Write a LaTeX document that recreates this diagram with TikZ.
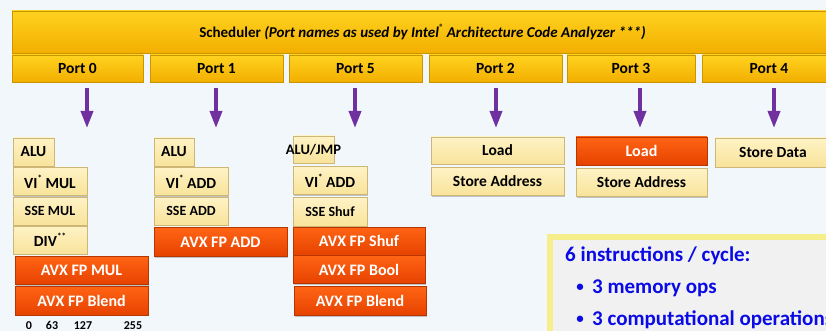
\documentclass[tikz,border=0pt]{standalone}
\usepackage{fontspec}
\setmainfont{Carlito}
\usetikzlibrary{arrows.meta,shadows}

\definecolor{bgc}{HTML}{F2F7FB}
\definecolor{goldT}{HTML}{FFD21F}
\definecolor{goldB}{HTML}{F3AF00}
\definecolor{goldD}{HTML}{C99600}
\definecolor{creamT}{HTML}{FFF3C6}
\definecolor{creamB}{HTML}{F8E39A}
\definecolor{creamD}{HTML}{CDB676}
\definecolor{oranT}{HTML}{FF6414}
\definecolor{oranB}{HTML}{E64200}
\definecolor{oranD}{HTML}{B83700}
\definecolor{arrc}{HTML}{7030A0}
\definecolor{bluetxt}{HTML}{0A0AE6}
\definecolor{noteedge}{HTML}{F6EE8A}
\definecolor{notefill}{HTML}{F1F1F1}

\newcommand{\fs}[1]{\fontsize{#1}{#1}\selectfont}
\newcommand{\supstar}[1]{\raisebox{0.45em}{\fs{9}#1}}

\tikzset{
  unit/.style={rectangle, inner sep=0pt, font=\bfseries\fs{15.5},
    drop shadow={shadow xshift=1pt, shadow yshift=-1pt, opacity=.3, fill=black!70}},
  gold/.style={unit, top color=goldT, bottom color=goldB, draw=goldD, line width=.5pt},
  cream/.style={unit, top color=creamT, bottom color=creamB, draw=creamD, line width=.5pt},
  hot/.style={unit, top color=oranT, bottom color=oranB, draw=oranD, line width=.5pt,
    text=white, font=\bfseries\fs{16}},
  arr/.style={arrc, line width=3.5pt, shorten <=6pt,
    -{Triangle[width=12pt,length=17pt]}},
  bits/.style={font=\bfseries\fs{12}, anchor=base, inner sep=0pt},
  note/.style={font=\bfseries\fs{21}, text=bluetxt, anchor=base west, inner sep=0pt},
}

\begin{document}
\begin{tikzpicture}[x=1pt,y=-1pt]
  \useasboundingbox (0,0) rectangle (826,331);
  \clip (0,0) rectangle (826,331);
  \fill[bgc] (0,0) rectangle (826,331);

  % scheduler bar
  \node[gold, font=\bfseries\fs{15}, minimum width=821pt, minimum height=42pt] (sched) at (422.5,32)
    {Scheduler \textit{(Port names as used by Intel\supstar{\textregistered} Architecture Code Analyzer ***)}};

  % ports
  \node[gold, minimum width=131pt, minimum height=27pt] (p0) at (77.5,68.5) {Port 0};
  \node[gold, minimum width=133pt, minimum height=27pt] (p1) at (216.5,68.5) {Port 1};
  \node[gold, minimum width=133pt, minimum height=27pt] (p5) at (355.5,68.5) {Port 5};
  \node[gold, minimum width=133pt, minimum height=27pt] (p2) at (495.5,68.5) {Port 2};
  \node[gold, minimum width=128pt, minimum height=27pt] (p3) at (631,68.5) {Port 3};
  \node[gold, minimum width=133pt, minimum height=27pt] (p4) at (769,68.5) {Port 4};

  % arrow tips
  \coordinate (t0) at (87,128);
  \coordinate (t1) at (216,128);
  \coordinate (t5) at (355,128);
  \coordinate (t2) at (496,128);
  \coordinate (t3) at (640,128);
  \coordinate (t4) at (774,128);
  \foreach \p/\t in {p0/t0,p1/t1,p5/t5,p2/t2,p3/t3,p4/t4}
    \draw[arr] (\p.south -| \t) -- (\t);

  % port 0 units
  \node[cream, minimum width=41pt, minimum height=28pt] (alu0) at (33.5,152) {ALU};
  \node[cream, minimum width=74pt, minimum height=28pt] (vimul) at (50,181.5) {VI\supstar{*} MUL};
  \node[cream, minimum width=74pt, minimum height=28pt, font=\bfseries\fs{14}] (ssemul) at (50,211) {SSE MUL};
  \node[cream, minimum width=74pt, minimum height=28pt] (div) at (50,240) {DIV\supstar{**}};
  \node[hot, minimum width=133pt, minimum height=28pt] (avxmul) at (81.5,270.5) {AVX FP MUL};
  \node[hot, minimum width=133pt, minimum height=29pt] (avxblend0) at (81.5,300.5) {AVX FP Blend};

  % bit positions
  \node[bits] (b0) at (29,329) {0};
  \node[bits] (b63) at (52,329) {63};
  \node[bits] (b127) at (83,329) {127};
  \node[bits] (b255) at (133,329) {255};

  % port 1 units
  \node[cream, minimum width=40pt, minimum height=28pt] (alu1) at (174,152) {ALU};
  \node[cream, minimum width=74pt, minimum height=28pt] (viadd1) at (191,181.5) {VI\supstar{*} ADD};
  \node[cream, minimum width=74pt, minimum height=28pt, font=\bfseries\fs{14}] (sseadd) at (191,211) {SSE ADD};
  \node[hot, minimum width=133pt, minimum height=29pt] (avxadd) at (220.5,242) {AVX FP ADD};

  % port 5 units
  \node[cream, minimum width=41pt, minimum height=27pt,
        label={[font=\bfseries\fs{14.5}, inner sep=0pt]center:ALU/JMP}] (alujmp) at (313.5,149.5) {};
  \node[cream, minimum width=74pt, minimum height=28pt] (viadd5) at (330,180.5) {VI\supstar{*} ADD};
  \node[cream, minimum width=74pt, minimum height=29pt, font=\bfseries\fs{14}] (sseshuf) at (330,212) {SSE Shuf};
  \node[hot, minimum width=132pt, minimum height=28pt] (avxshuf) at (359,241) {AVX FP Shuf};
  \node[hot, minimum width=132pt, minimum height=28pt] (avxbool) at (359,269.5) {AVX FP Bool};
  \node[hot, minimum width=132pt, minimum height=29pt] (avxblend5) at (360,301) {AVX FP Blend};

  % port 2 units
  \node[cream, minimum width=133pt, minimum height=27pt] (load2) at (497.5,150.5) {Load};
  \node[cream, minimum width=133pt, minimum height=28pt] (sta2) at (497.5,181.5) {Store Address};

  % port 3 units
  \node[hot, minimum width=131pt, minimum height=28pt] (load3) at (641.5,151) {Load};
  \node[cream, minimum width=131pt, minimum height=28pt] (sta3) at (641.5,182.5) {Store Address};

  % port 4 unit
  \node[cream, minimum width=116pt, minimum height=29pt] (std) at (773,152.5) {Store Data};

  % throughput note
  \draw[noteedge, line width=6pt, fill=notefill] (550,237) rectangle (860,360);
  \node[note] (n0) at (565,261) {6 instructions / cycle:};
  \node[note] (n1) at (592,293) {3 memory ops};
  \node[note] (n2) at (592,325) {3 computational operations};
  \node[note, anchor=base, font=\bfseries\fs{15}] (d1) at (580,291) {\textbullet};
  \node[note, anchor=base, font=\bfseries\fs{15}] (d2) at (580,323) {\textbullet};
\end{tikzpicture}
\end{document}
